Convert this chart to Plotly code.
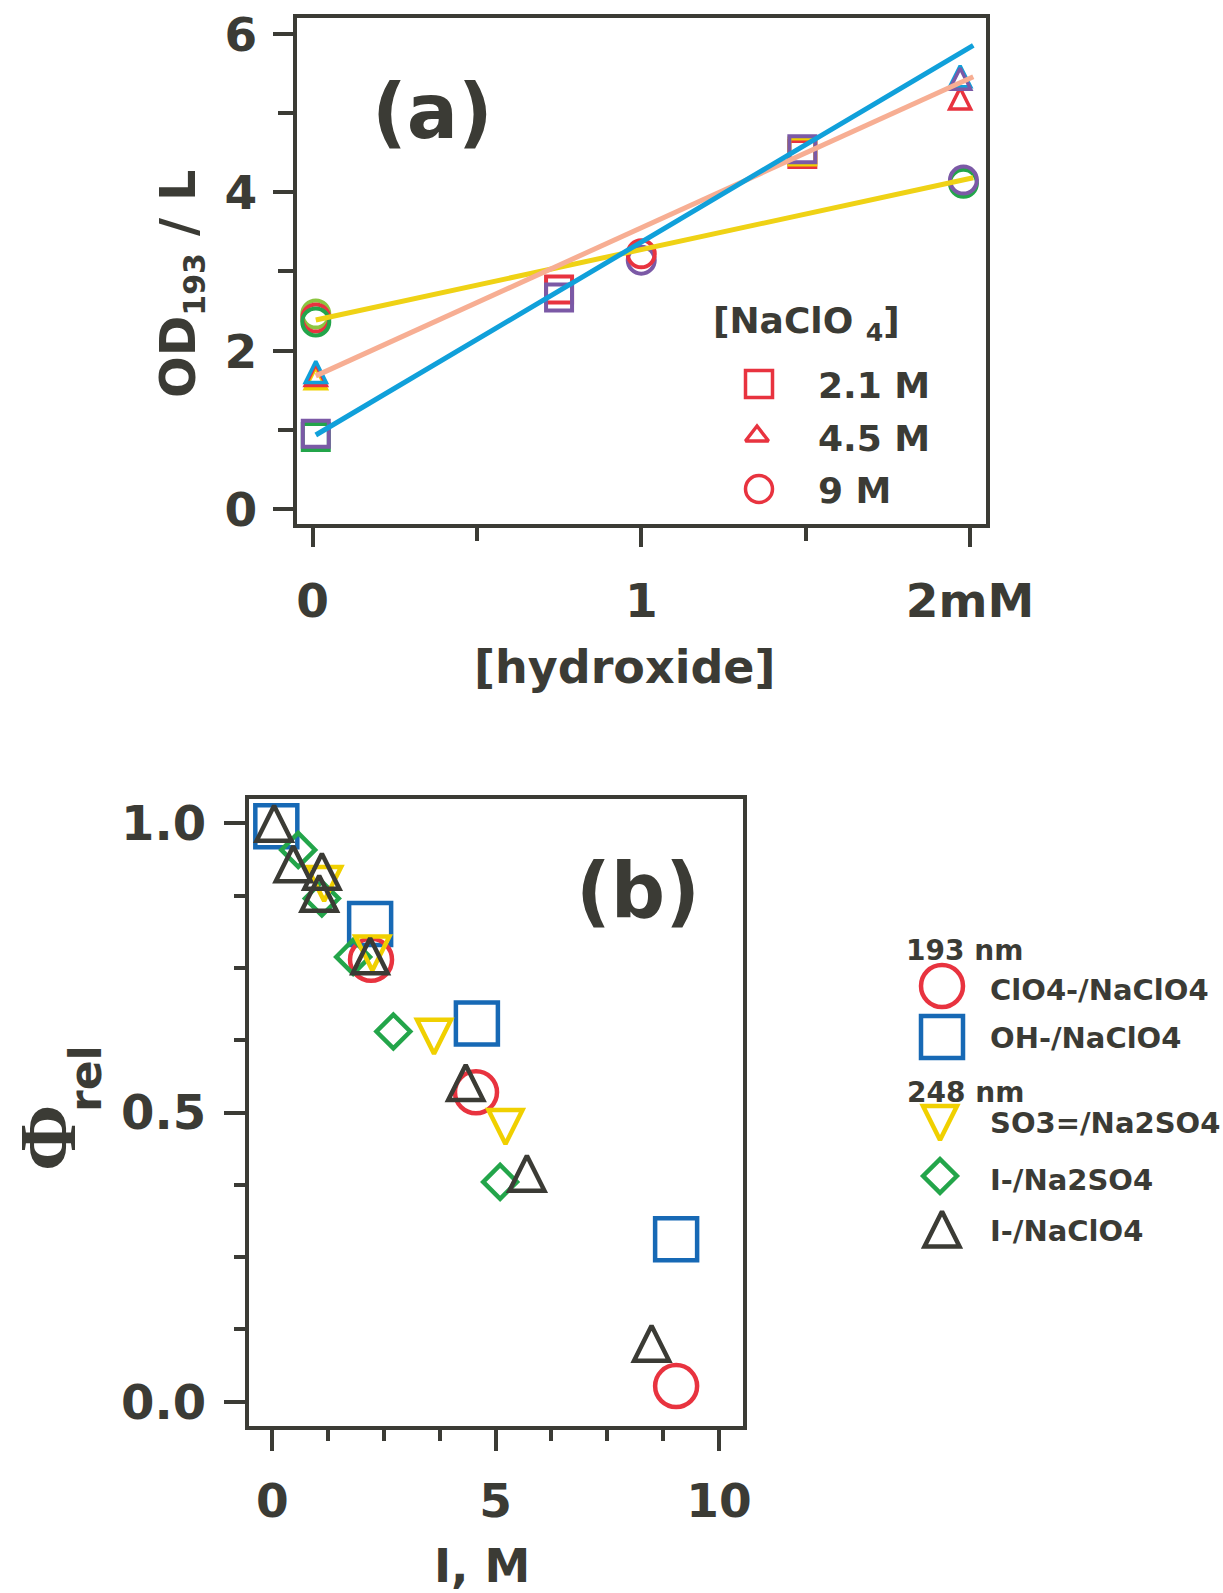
import plotly.graph_objects as go

W, H = 1223, 1593
INK = "#3b3b35"
FONT = "DejaVu Sans"

RED = "#e8333f"
PURPLE = "#7b59a6"
GREEN = "#23a54a"
LIME = "#8cc540"
YELLOW = "#f0d000"
CYAN = "#10a0da"
SALMON = "#f7ae93"
BLUE = "#1769b5"

# ---------------- panel (a): OD193 / L against [hydroxide] (mM) ----------------
# 2.1 M NaClO4 (squares), several overlapping runs
sq_x = [0.01, 0.75, 1.49]
sq_green = [0.91, None, None]
sq_red = [None, 2.77, 4.48]
sq_yellow = [None, None, 4.51]
sq_purple = [0.95, 2.67, 4.54]

# 4.5 M NaClO4 (triangles)
tri_x = [0.01, 1.97]
tri_yellow = [1.65, None]
tri_red = [1.69, 5.18]
tri_cyan = [1.73, 5.46]
tri_purple = [None, 5.43]

# 9 M NaClO4 (circles)
circ_x = [0.01, 1.0, 1.98]
circ_lime = [2.46, None, None]
circ_red = [2.41, 3.22, None]
circ_green = [2.36, None, 4.11]
circ_purple = [None, 3.14, 4.15]
circ_stack = [["lime", "red", "green"], ["purple", "red"], ["green", "purple"]]

# straight-line fits
fit_x = [0.01, 2.01]
fit_9M = [2.385, 4.18]
fit_45M = [1.68, 5.455]
fit_21M = [0.934, 5.85]

a_legend_title = "[NaClO <sub>4</sub>]"
a_legend_labels = ["2.1 M", "4.5 M", "9 M"]

# ---------------- panel (b): relative quantum yield against ionic strength ----------------
clo4_I = [2.21, 4.56, 9.04]
clo4_phi = [0.764, 0.535, 0.027]
oh_I = [0.09, 2.19, 4.58, 9.04]
oh_phi = [0.995, 0.826, 0.654, 0.281]
so3_I = [1.16, 2.24, 3.62, 5.22]
so3_phi = [0.895, 0.775, 0.631, 0.475]
iso4_I = [0.58, 1.11, 1.81, 2.71, 5.10]
iso4_phi = [0.954, 0.870, 0.769, 0.640, 0.380]
iclo4_I = [0.04, 0.47, 1.11, 1.05, 2.19, 4.33, 5.70, 8.49]
iclo4_phi = [1.0, 0.930, 0.917, 0.879, 0.771, 0.552, 0.395, 0.101]

b_series_labels = ["ClO4-/NaClO4", "OH-/NaClO4", "SO3=/Na2SO4", "I-/Na2SO4", "I-/NaClO4"]
b_group_labels = ["193 nm", "248 nm"]


def x_frame(p0, p1, t0, t1, v0, v1):
    s = (t1 - t0) / (v1 - v0)
    return [p0 / W, p1 / W], [v0 + (p0 - t0) / s, v0 + (p1 - t0) / s]


def y_frame(top, bottom, t0, t1, v0, v1):
    s = (t0 - t1) / (v1 - v0)
    return [1 - bottom / H, 1 - top / H], [v0 - (bottom - t0) / s, v0 + (t0 - top) / s]


xa_dom, xa_rng = x_frame(296.6, 986, 312.5, 970, 0, 2)
ya_dom, ya_rng = y_frame(17.6, 524, 509, 33.5, 0, 6)
xb_dom, xb_rng = x_frame(248.7, 743, 272.3, 719, 0, 10)
yb_dom, yb_rng = y_frame(798.7, 1426, 1401.7, 823.3, 0, 1)

fig = go.Figure()


def marks(x, y, symbol, size, color, lw, xa="x", ya="y", standoff=0, angle=0):
    fig.add_trace(go.Scatter(
        x=x, y=y, mode="markers", xaxis=xa, yaxis=ya, hoverinfo="skip",
        marker=dict(symbol=symbol, size=size, color="rgba(0,0,0,0)", angle=angle,
                    standoff=standoff, line=dict(color=color, width=lw)),
    ))


def up_tri(x, y, size, color, lw, xa="x", ya="y"):
    # a turned-over arrow head gives a tall, centred upward triangle
    marks(x, y, "arrow-down", size, color, lw, xa, ya, standoff=size / 2, angle=180)


def down_tri(x, y, size, color, lw, xa="x", ya="y"):
    marks(x, y, "arrow-down", size, color, lw, xa, ya, standoff=size / 2)


# panel (a) markers
for vals, col in [(sq_green, GREEN), (sq_red, RED), (sq_yellow, YELLOW), (sq_purple, PURPLE)]:
    marks(sq_x, vals, "square", 26, col, 4)
for vals, col in [(tri_yellow, YELLOW), (tri_red, RED), (tri_cyan, CYAN), (tri_purple, PURPLE)]:
    up_tri(tri_x, vals, 21, col, 3.5)
circ_series = {"lime": (circ_lime, LIME), "red": (circ_red, RED),
               "green": (circ_green, GREEN), "purple": (circ_purple, PURPLE)}
for i, xv in enumerate(circ_x):
    for name in circ_stack[i]:
        vals, col = circ_series[name]
        marks([xv], [vals[i]], "circle", 27, col, 4)

# panel (a) fitted lines
for vals, col in [(fit_9M, "#efd215"), (fit_45M, SALMON), (fit_21M, CYAN)]:
    fig.add_trace(go.Scatter(x=fit_x, y=vals, mode="lines", hoverinfo="skip",
                             line=dict(color=col, width=5)))

# panel (b) markers
marks(oh_I, oh_phi, "square", 42, BLUE, 4.5, "x2", "y2")
marks(clo4_I, clo4_phi, "circle", 42, RED, 4.5, "x2", "y2")
marks(iso4_I, iso4_phi, "diamond", 26, GREEN, 4.5, "x2", "y2")
down_tri(so3_I, so3_phi, 34, YELLOW, 4.5, "x2", "y2")
up_tri(iclo4_I, iclo4_phi, 35, INK, 4.5, "x2", "y2")

# legend keys, placed on a page-sized helper axis measured in pixels
a_key_y = [384, 436, 489]
marks([759], [a_key_y[0]], "square", 27, RED, 3.5, "x3", "y3")
marks([757], [a_key_y[1]], "triangle-up", 20, RED, 3.5, "x3", "y3")
marks([759], [a_key_y[2]], "circle", 27, RED, 3.5, "x3", "y3")

b_key_x = 942
b_key_y = [986, 1037, 1123, 1176, 1229]
marks([b_key_x], [b_key_y[0]], "circle", 42, RED, 4.5, "x3", "y3")
marks([b_key_x], [b_key_y[1]], "square", 42, BLUE, 4.5, "x3", "y3")
down_tri([b_key_x - 2], [b_key_y[2]], 34, YELLOW, 4.5, "x3", "y3")
marks([b_key_x - 2], [b_key_y[3]], "diamond", 26, GREEN, 4.5, "x3", "y3")
up_tri([b_key_x], [b_key_y[4]], 35, INK, 4.5, "x3", "y3")


def axis_style(size):
    return dict(showline=True, linewidth=4, linecolor=INK, mirror=True,
                ticks="outside", tickwidth=4, tickcolor=INK, automargin=False,
                showgrid=False, zeroline=False, fixedrange=True, ticklabeloverflow="allow",
                tickfont=dict(family=FONT, size=size, color=INK, weight="bold"))


bare = dict(showline=False, showgrid=False, zeroline=False, showticklabels=False,
            automargin=False, fixedrange=True)

fig.update_layout(
    width=W, height=H, margin=dict(l=0, r=0, t=0, b=0, pad=0, autoexpand=False),
    paper_bgcolor="white", plot_bgcolor="rgba(0,0,0,0)", showlegend=False,
    xaxis=dict(**axis_style(47), domain=xa_dom, range=xa_rng, anchor="y",
               tickmode="array", tickvals=[0, 1, 2], ticktext=["0", "1", "2mM"],
               ticklen=19, ticklabelstandoff=14,
               minor=dict(tickmode="array", tickvals=[0.5, 1.5], ticks="outside",
                          ticklen=13, tickwidth=4, tickcolor=INK)),
    yaxis=dict(**axis_style(47), domain=ya_dom, range=ya_rng, anchor="x",
               tickmode="array", tickvals=[0, 2, 4, 6], ticklen=20,
               ticklabelstandoff=6, ticklabelshift=1,
               minor=dict(tickmode="array", tickvals=[1, 3, 5], ticks="outside",
                          ticklen=15, tickwidth=4, tickcolor=INK)),
    xaxis2=dict(**axis_style(47), domain=xb_dom, range=xb_rng, anchor="y2",
                tickmode="array", tickvals=[0, 5, 10], ticklen=21, ticklabelstandoff=10,
                minor=dict(dtick=1.25, tick0=0, ticks="outside",
                           ticklen=11, tickwidth=4, tickcolor=INK)),
    yaxis2=dict(**axis_style(48), domain=yb_dom, range=yb_rng, anchor="x2",
                tickmode="array", tickvals=[0, 0.5, 1], ticktext=["0.0", "0.5", "1.0"],
                ticklen=21, ticklabelstandoff=8, ticklabelshift=0,
                minor=dict(dtick=0.125, tick0=0, ticks="outside",
                           ticklen=11, tickwidth=4, tickcolor=INK)),
    xaxis5=dict(**bare, overlaying="x2", anchor="y2", range=xb_rng,
                tickmode="array", tickvals=[2.5, 7.5], ticks="outside",
                ticklen=16, tickwidth=4, tickcolor=INK),
    yaxis5=dict(**bare, overlaying="y2", anchor="x2", range=yb_rng,
                tickmode="array", tickvals=[0.25, 0.75], ticks="outside",
                ticklen=16, tickwidth=4, tickcolor=INK),
    xaxis3=dict(visible=False, domain=[0, 1], range=[0, W], anchor="y3",
                fixedrange=True, automargin=False),
    yaxis3=dict(visible=False, domain=[0, 1], range=[H, 0], anchor="x3",
                fixedrange=True, automargin=False),
)


def label(text, px, py, size, xanchor="center", angle=0, family=FONT):
    fig.add_annotation(text=text, x=px / W, y=1 - py / H, xref="paper", yref="paper",
                       xanchor=xanchor, yanchor="middle", showarrow=False, textangle=angle,
                       font=dict(family=family, size=size, color=INK, weight="bold"))


# panel tags and axis titles
label("(a)", 432, 112, 76)
label("(b)", 638, 891, 76)
label("[hydroxide]", 625, 667, 46)
label('OD<sub><span style="font-size:30px">193</span></sub> / L', 181, 284, 49, angle=-90)
label("I, M", 482, 1566, 46)
label("Φ", 48, 1138, 80, angle=-90, family="Liberation Serif")
label("rel", 85, 1079, 44, angle=-90)

# legend text
label(a_legend_title, 711, 323, 36, xanchor="left")
for txt, py in zip(a_legend_labels, [386, 438, 490]):
    label(txt, 816, py, 36, xanchor="left")

label(b_group_labels[0], 904, 950, 28, xanchor="left")
label(b_group_labels[1], 905, 1092, 28, xanchor="left")
for txt, py in zip(b_series_labels, [990, 1038, 1123, 1180, 1231]):
    label(txt, 988, py, 29, xanchor="left")

fig.write_html("out.html")
